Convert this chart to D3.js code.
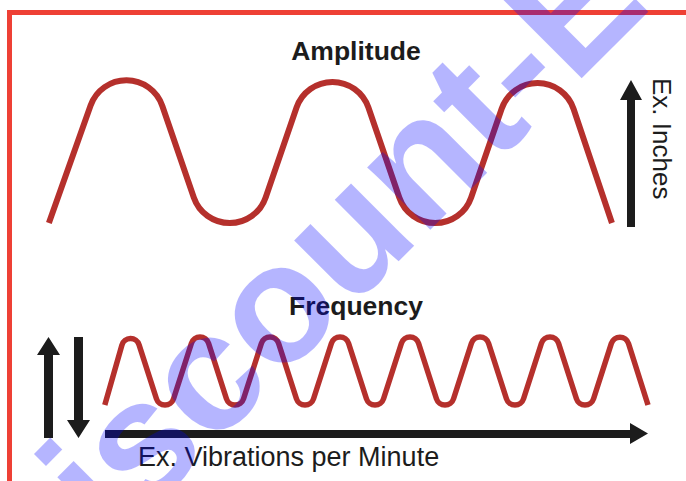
<!DOCTYPE html>
<html>
<head>
<meta charset="utf-8">
<script src="https://cdn.jsdelivr.net/npm/d3@7"></script>
<style>
  body { margin: 0; background: #fff; }
  svg { display: block; }
  text { font-family: "Liberation Sans", Arial, sans-serif; }
</style>
</head>
<body>
<script>
var width = 686;
var height = 481;

// amplitude wave: turning points (in cycles) and levels (peak = 1)
var ampCycles = [-0.13, 0.25, 0.75, 1.25, 1.75, 2.25, 2.61];
var ampLevels = [-1, 2.12, -2.12, 2.12, -2.12, 2.12, -1];

// frequency wave: same idea, many more cycles
var freqCycles = [-0.11, 0.25, 0.75, 1.25, 1.75, 2.25, 2.75, 3.25, 3.75, 4.25, 4.75, 5.25, 5.75, 6.25, 6.75, 7.25, 7.65];
var freqLevels = [-1, 1.6, -1.6, 1.6, -1.6, 1.6, -1.6, 1.6, -1.6, 1.6, -1.6, 1.6, -1.6, 1.6, -1.6, 1.6, -1];

var titles = ["Amplitude", "Frequency"];
var axisLabels = ["Ex. Inches", "Ex. Vibrations per Minute"];
var watermark = "Discount-Equipment";

var waveColor = "#b5302c";
var ink = "#1c1c1c";

var svg = d3.select("body").append("svg")
    .attr("width", width)
    .attr("height", height);

svg.append("rect")
    .attr("width", width)
    .attr("height", height)
    .attr("fill", "#fff");

// red frame, runs off the right and bottom edges
svg.append("rect")
    .attr("x", 9.5)
    .attr("y", 12.5)
    .attr("width", 720)
    .attr("height", 520)
    .attr("fill", "none")
    .attr("stroke", "#ee4035")
    .attr("stroke-width", 5);

// polyline with rounded corners
function roundedPath(pts, r) {
  var p = d3.path();
  p.moveTo(pts[0][0], pts[0][1]);
  for (var i = 1; i < pts.length - 1; i++) {
    p.arcTo(pts[i][0], pts[i][1], pts[i + 1][0], pts[i + 1][1], r);
  }
  p.lineTo(pts[pts.length - 1][0], pts[pts.length - 1][1]);
  return p.toString();
}

var xAmp = d3.scaleLinear().domain([0, 1]).range([75.6, 281.1]);
var yAmp = d3.scaleLinear().domain([-1, 1]).range([223, 82]);

var xFreq = d3.scaleLinear().domain([0, 1]).range([112.5, 182.5]);
var yFreq = d3.scaleLinear().domain([-1, 1]).range([405, 337]);

var ampPts = ampCycles.map(function(c, i) { return [xAmp(c), yAmp(ampLevels[i])]; });
var freqPts = freqCycles.map(function(c, i) { return [xFreq(c), yFreq(freqLevels[i])]; });

svg.append("path")
    .attr("d", roundedPath(ampPts, 38))
    .attr("fill", "none")
    .attr("stroke", waveColor)
    .attr("stroke-width", 6);

svg.append("path")
    .attr("d", roundedPath(freqPts, 9))
    .attr("fill", "none")
    .attr("stroke", waveColor)
    .attr("stroke-width", 5.5);

// arrows
var arrows = svg.append("g").attr("fill", ink);

// amplitude arrow (up)
arrows.append("path").attr("d", "M627,227 L627,100 L620,100 L631,80 L642,100 L635,100 L635,227 Z");
// small up / down arrows
arrows.append("path").attr("d", "M44,438 L44,355 L37,355 L48.5,337 L60,355 L53,355 L53,438 Z");
arrows.append("path").attr("d", "M74,337 L74,420 L67,420 L78.5,438 L90,420 L83,420 L83,337 Z");
// horizontal arrow
arrows.append("path").attr("d", "M105,430 L630,430 L630,423 L648,433.5 L630,444 L630,438 L105,438 Z");

svg.append("text")
    .attr("x", 356)
    .attr("y", 60)
    .attr("text-anchor", "middle")
    .attr("font-size", 26.5)
    .attr("font-weight", "bold")
    .attr("fill", ink)
    .text(titles[0]);

svg.append("text")
    .attr("x", 356)
    .attr("y", 315)
    .attr("text-anchor", "middle")
    .attr("font-size", 26.5)
    .attr("font-weight", "bold")
    .attr("fill", ink)
    .text(titles[1]);

svg.append("text")
    .attr("transform", "translate(653,78) rotate(90)")
    .attr("font-size", 26)
    .attr("fill", ink)
    .text(axisLabels[0]);

svg.append("text")
    .attr("x", 138)
    .attr("y", 466)
    .attr("font-size", 27)
    .attr("fill", ink)
    .text(axisLabels[1]);

// watermark on top
svg.append("text")
    .attr("transform", "translate(26,634) rotate(-45)")
    .attr("font-size", 168)
    .attr("font-weight", "bold")
    .attr("fill", "rgba(0,0,255,0.29)")
    .text(watermark);
</script>
</body>
</html>
